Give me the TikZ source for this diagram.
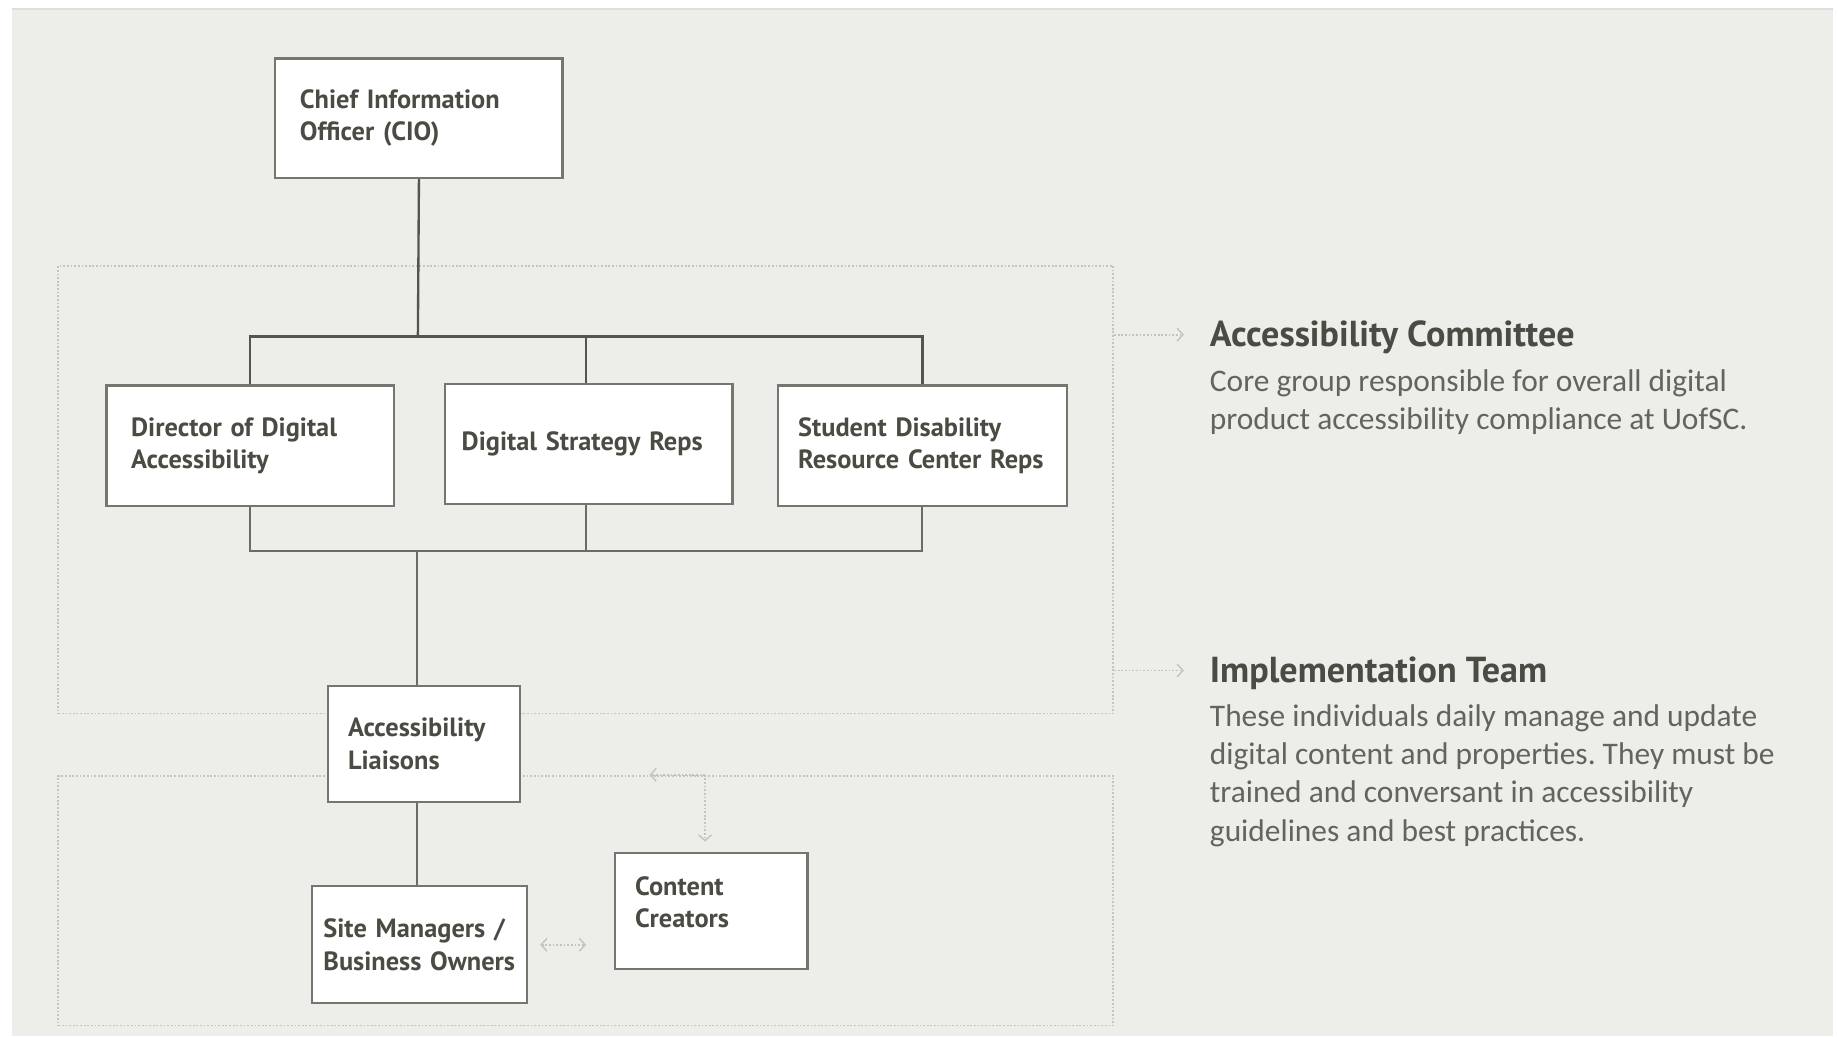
\documentclass[tikz,border=0pt]{standalone}
\usepackage{fontspec}
\setmainfont{PT Sans}
\newfontfamily\bodyfont{Carlito}
\usetikzlibrary{arrows.meta}
\definecolor{bg}{HTML}{EDEDE9}
\definecolor{topedge}{HTML}{DEDEDA}
\definecolor{boxline}{HTML}{76766E}
\definecolor{connA}{HTML}{55554D}
\definecolor{connB}{HTML}{6C6C64}
\definecolor{txt}{HTML}{4B4B43}
\definecolor{bodytxt}{HTML}{64645D}
\definecolor{dotc}{HTML}{C4C4BF}
\frenchspacing
\begin{document}
\begin{tikzpicture}[x=1pt,y=-1pt,
  box/.style={draw=boxline, line width=1.8pt, fill=white, inner sep=0pt,
    align=left, anchor=north west, text=txt,
    font=\bfseries\fontsize{22.5}{27.6}\selectfont},
  upconn/.style={draw=connA, line width=2pt},
  lowconn/.style={draw=connB, line width=1.6pt},
  frame/.style={draw=dotc, line width=1.5pt, dash pattern=on 1.5pt off 1.6pt,
    inner sep=0pt, anchor=north west},
  dotarrow/.style={draw=dotc, line width=1.5pt, dash pattern=on 1.5pt off 1.6pt,
    -{Straight Barb[length=5pt,width=11pt,line width=1.2pt]}},
  dotdbl/.style={draw=dotc, line width=1.5pt, dash pattern=on 1.5pt off 1.6pt,
    {Straight Barb[length=5pt,width=11pt,line width=1.2pt]}-{Straight Barb[length=5pt,width=11pt,line width=1.2pt]}},
  heading/.style={anchor=base west, inner sep=0pt, text=txt,
    font=\bfseries\fontsize{30.8}{36}\selectfont},
  bodytext/.style={anchor=base west, inner sep=0pt, text=bodytxt,
    font=\bodyfont\fontsize{26.8}{32.5}\selectfont}
]
\useasboundingbox (0,0) rectangle (1568,884);
\fill[bg] (10,7) rectangle (1564,884);
\draw[topedge, line width=1.5pt] (10,7.75) -- (1564,7.75);

% dotted group frames
\node[frame, minimum width=900pt, minimum height=382pt] (committee) at (49,226) {};
\node[frame, minimum width=900pt, minimum height=213pt] (implementation) at (49,661) {};

% boxes
\node[box, minimum width=245pt, minimum height=102pt, text width=203pt] (cio) at (234,49) {Chief Information\\Officer (CIO)};
\node[box, minimum width=245pt, minimum height=103pt, text width=203pt] (dir) at (90,328) {Director of Digital\\Accessibility};
\node[box, minimum width=245pt, minimum height=102pt, text width=217pt] (dsr) at (379,327) {Digital Strategy Reps};
\node[box, minimum width=246pt, minimum height=103pt, text width=212pt] (sdr) at (663,328) {Student Disability\\Resource Center Reps};
\node[box, minimum width=164pt, minimum height=99pt, text width=130pt] (lia) at (279,584) {Accessibility\\Liaisons};
\node[box, minimum width=184pt, minimum height=100pt, text width=164pt] (smb) at (265,755) {Site Managers /\\Business Owners};
\node[box, minimum width=164pt, minimum height=99pt, text width=130pt] (cc) at (524,727) {Content\\Creators\par\vspace{15pt}};

% hierarchy connectors
\coordinate (topbus) at (356.5,287);
\coordinate (botbus) at (356,470);
\draw[upconn] (cio.south) -- (topbus);
\draw[upconn] (dir.north) |- (topbus) -| (sdr.north);
\draw[upconn] ([xshift=-2.5pt]dsr.north) -- ([xshift=-2.5pt]dsr.north |- topbus);
\draw[lowconn] (dir.south) |- (botbus) -| (sdr.south);
\draw[lowconn] ([xshift=-2.5pt]dsr.south) -- ([xshift=-2.5pt]dsr.south |- botbus);
\draw[lowconn] (botbus) -- (botbus |- lia.north);
\draw[lowconn] (lia.south -| botbus) -- (smb.north -| botbus);

% right-hand descriptions
\node[heading] (ctitle) at (1032,296) {Accessibility Committee};
\node[bodytext] (cbody) at (1032,334) {\parbox[t]{530pt}{\raggedright Core group responsible for overall digital\\product accessibility compliance at UofSC.}};
\node[heading] (ititle) at (1032,582) {Implementation Team};
\node[bodytext] (ibody) at (1032,620) {\parbox[t]{530pt}{\raggedright These individuals daily manage and update\\digital content and properties. They must be\\trained and conversant in accessibility\\guidelines and best practices.}};

\draw[dotarrow] (committee.east |- 0,285.5) -- (1010,285.5);
\draw[dotarrow] (committee.east |- 0,572) -- (1010,572);

% dotted arrows in implementation team
\coordinate (split) at (601.5,661);
\draw[dotarrow] (split) -- (554,661);
\draw[dotarrow] (split) -- (601.5,718);
\draw[dotdbl] ([xshift=10pt]smb.east |- 0,806) -- (500,806);
\end{tikzpicture}
\end{document}
